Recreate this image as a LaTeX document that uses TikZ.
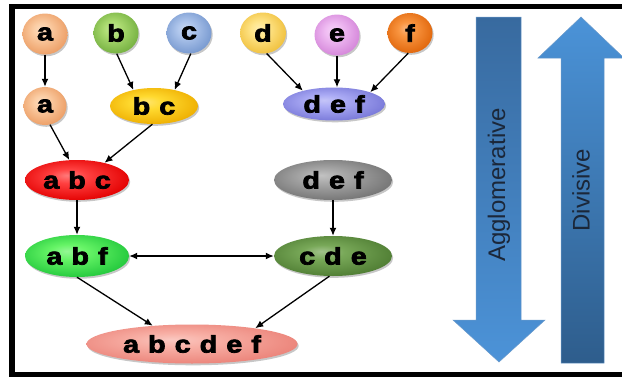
\documentclass[tikz,border=0pt]{standalone}
\usepackage{fontspec}
\setmainfont{Liberation Sans}
\newfontfamily\lblfont{Liberation Sans Bold}[FakeBold=3,FakeStretch=1.2]
\newfontfamily\arrowfont{Liberation Sans}
\usetikzlibrary{arrows.meta,shapes.geometric,shadows}

% node colours: light (highlight) and dark (rim)
\definecolor{peachL}{HTML}{FBCDA4}\definecolor{peachD}{HTML}{EC9D64}
\definecolor{greenL}{HTML}{ADDC72}\definecolor{greenD}{HTML}{74B040}
\definecolor{blueL}{HTML}{AFC6EC}\definecolor{blueD}{HTML}{7698CF}
\definecolor{yelL}{HTML}{FFE58A}\definecolor{yelD}{HTML}{F0C03C}
\definecolor{vioL}{HTML}{F0BDF3}\definecolor{vioD}{HTML}{D485D9}
\definecolor{oraL}{HTML}{F99540}\definecolor{oraD}{HTML}{E0650A}
\definecolor{goldL}{HTML}{FFDA30}\definecolor{goldD}{HTML}{EEAE00}
\definecolor{lavL}{HTML}{ABABF5}\definecolor{lavD}{HTML}{7878D8}
\definecolor{redL}{HTML}{FF4040}\definecolor{redD}{HTML}{E30000}
\definecolor{grayL}{HTML}{A8A8A8}\definecolor{grayD}{HTML}{747474}
\definecolor{limeL}{HTML}{66F466}\definecolor{limeD}{HTML}{22C83C}
\definecolor{dkgL}{HTML}{78A858}\definecolor{dkgD}{HTML}{4F7D33}
\definecolor{salL}{HTML}{F8B0A6}\definecolor{salD}{HTML}{EB8379}
% big direction arrows
\definecolor{agTop}{HTML}{386A9F}\definecolor{agBot}{HTML}{4C93D8}
\definecolor{dvTop}{HTML}{4B93D8}\definecolor{dvBot}{HTML}{2E5D8C}
\definecolor{arrEdge}{HTML}{6A9ACB}
\definecolor{arrText}{HTML}{1B2739}

\colorlet{gin}{white}\colorlet{gout}{black}
\pgfdeclareradialshading[gin,gout]{glossy}{\pgfpoint{-5bp}{6bp}}{%
  color(0bp)=(gin!70!white); color(9bp)=(gin); color(29bp)=(gout); color(50bp)=(gout)}

\newcommand\gp{\hspace{9pt}}

\tikzset{
  gl/.style 2 args={/utils/exec={\colorlet{gin}{#1}\colorlet{gout}{#2}},
    shading=glossy, ellipse, inner sep=0pt, text=black,
    drop shadow={shadow xshift=1.2pt, shadow yshift=-1.8pt, opacity=0.22, fill=black},
    font=\lblfont\fontsize{24}{24}\selectfont},
  sz/.style 2 args={minimum width=#1pt, minimum height=#2pt},
  tip/.style={Latex[length=8pt,width=7pt]},
  arr/.style={-{Latex[length=8pt,width=7pt]}, line width=1.3pt},
  dbl/.style={{Latex[length=8pt,width=7pt]}-{Latex[length=8pt,width=7pt]}, line width=1.3pt},
  bigarrow/.style={draw=arrEdge, line width=0.5pt},
  arrlabel/.style={rotate=90, text=arrText, font=\arrowfont\fontsize{24}{24}\selectfont}
}

\begin{document}
\begin{tikzpicture}[x=1pt, y=-1pt]
\useasboundingbox (0,0) rectangle (622,378);
\clip (0,0) rectangle (622,378);
\fill[white] (0,0) rectangle (622,378);

% frame (open on the right)
\draw[line width=5.5pt] (650,6.5) -- (12,6.5) -- (12,374.5) -- (650,374.5);

% direction arrows
\path[bigarrow, top color=agTop, bottom color=agBot]
  (476,17) -- (521,17) -- (521,320) -- (545,320) -- (499,362) -- (453,320) -- (476,320) -- cycle;
\path[bigarrow, top color=dvTop, bottom color=dvBot]
  (581,17) -- (624,58) -- (604,58) -- (604,363) -- (561,363) -- (561,58) -- (538,58) -- cycle;
\node[arrlabel] (agg) at (499,185) {Agglomerative};
\node[arrlabel] (div) at (581,190) {Divisive};

% singletons
\node[gl={peachL}{peachD}, sz={45}{41}] (a1) at (45,34) {a};
\node[gl={greenL}{greenD}, sz={45}{41}] (b1) at (116,33) {b};
\node[gl={blueL}{blueD},   sz={45}{41}] (c1) at (189,33) {c};
\node[gl={yelL}{yelD},     sz={46}{41}] (d1) at (263,33) {d};
\node[gl={vioL}{vioD},     sz={45}{41}] (e1) at (337,35) {e};
\node[gl={oraL}{oraD},     sz={45}{40}] (f1) at (410,33) {f};

% clusters
\node[gl={peachL}{peachD}, sz={43}{38}]  (a2)  at (45,106)  {a};
\node[gl={goldL}{goldD},   sz={88}{36}]  (bc)  at (154,106) {b\gp c};
\node[gl={lavL}{lavD},     sz={102}{33}] (def) at (334,104) {d\gp e\gp f};
\node[gl={redL}{redD},     sz={104}{40}] (abc) at (77,180)  {a\gp b\gp c};
\node[gl={grayL}{grayD},   sz={118}{40}] (defg) at (333,180) {d\gp e\gp f};
\node[gl={limeL}{limeD},   sz={104}{42}] (abf) at (77,256)  {a\gp b\gp f};
\node[gl={dkgL}{dkgD},     sz={118}{40}] (cde) at (333,256) {c\gp d\gp e};
\node[gl={salL}{salD},     sz={211}{39}] (all) at (192,344) {a\gp b\gp c\gp d\gp e\gp f};

% connectors
\draw[arr] (a1) -- (a2);
\draw[arr] (b1.-88) -- (bc.142);
\draw[arr] (c1.-85) -- (bc.38);
\draw[arr] (d1.-80) -- (def.157);
\draw[arr] (e1) -- (e1 |- def.north);
\draw[arr] (f1.-95) -- (def.18);
\draw[arr] (a2.-75) -- (abc.111);
\draw[arr] (bc.-95) -- (abc.32);
\draw[arr] (abc) -- (abf);
\draw[arr] (defg) -- (cde);
\draw[dbl] (abf) -- (cde);
\draw[arr] (abf.south) -- (all.155);
\draw[arr] (cde.-100) -- (all.14);
\end{tikzpicture}
\end{document}
